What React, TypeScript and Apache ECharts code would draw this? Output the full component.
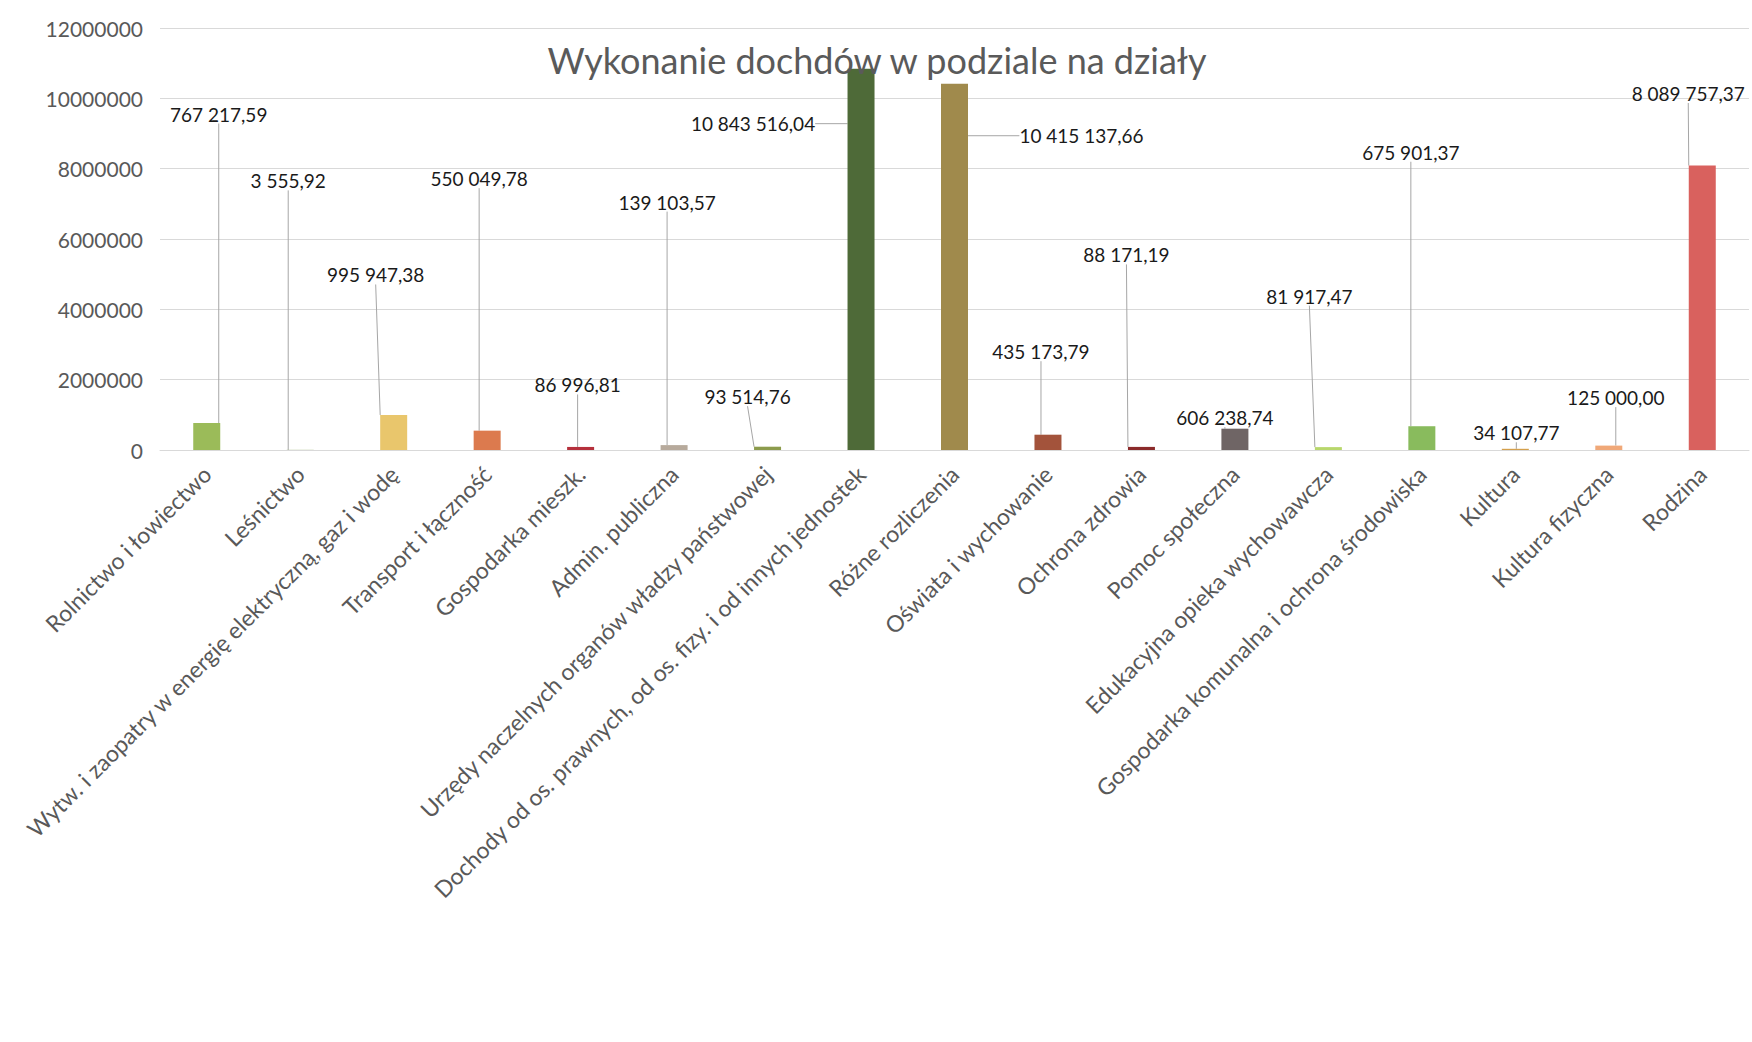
import React, { useEffect, useRef } from "react";
import * as echarts from "echarts";

const categories = [
  "Rolnictwo i łowiectwo",
  "Leśnictwo",
  "Wytw. i zaopatry w energię elektryczną, gaz i wodę",
  "Transport i łączność",
  "Gospodarka mieszk.",
  "Admin. publiczna",
  "Urzędy naczelnych organów władzy państwowej",
  "Dochody od os. prawnych, od os. fizy. i od innych jednostek",
  "Różne rozliczenia",
  "Oświata i wychowanie",
  "Ochrona zdrowia",
  "Pomoc społeczna",
  "Edukacyjna opieka wychowawcza",
  "Gospodarka komunalna i ochrona środowiska",
  "Kultura",
  "Kultura fizyczna",
  "Rodzina",
];

const values = [
  767217.59, 3555.92, 995947.38, 550049.78, 86996.81, 139103.57, 93514.76,
  10843516.04, 10415137.66, 435173.79, 88171.19, 606238.74, 81917.47,
  675901.37, 34107.77, 125000.0, 8089757.37,
];

const yMin = 0;
const yMax = 12000000;
const yStep = 2000000;

const barColors = [
  "#9bbb59", "#77933c", "#e9c66c", "#dc7a4e", "#b5303c", "#b7aa9c",
  "#8c9b4c", "#4e6a38", "#a08a4c", "#a3533b", "#8b2a2a", "#6f6565",
  "#b8d76c", "#89bb5d", "#d4a04c", "#f0a878", "#d9615e",
];

// label offsets (px) relative to the top-centre of each bar
const labelDx = [12, -12, -18, -8, -3, -7, -20, -108, 127, -7, -15, -10, -19, -11, 1, 7, -14];
const labelDy = [-309, -269, -140, -252, -62, -243, -50, 55, 52, -83, -192, -11, -151, -274, -16, -48, -72];

function fmt(v: number): string {
  const [i, d] = v.toFixed(2).split(".");
  const withSpaces = i.replace(/\B(?=(\d{3})+(?!\d))/g, " ");
  return withSpaces + "," + d;
}

export default function App() {
  const ref = useRef<HTMLDivElement>(null);
  useEffect(() => {
    if (!ref.current) return;
    const chart = echarts.init(ref.current, null, { renderer: "svg" });
    chart.setOption({
      animation: false,
      backgroundColor: "#ffffff",
      title: {
        text: "Wykonanie dochdów w podziale na działy",
        left: 872,
        textAlign: "center",
        top: 37,
        textStyle: {
          fontFamily: "Lato",
          fontSize: 36,
          fontWeight: "normal",
          color: "#5a5a5a",
        },
      },
      grid: { left: 160, right: 3, top: 28, bottom: 1042 - 450, containLabel: false },
      xAxis: {
        type: "category",
        data: categories,
        axisTick: { show: false },
        axisLine: { lineStyle: { color: "#d9d9d9" } },
        axisLabel: {
          rotate: 45,
          interval: 0,
          margin: 20,
          fontFamily: "Lato",
          fontSize: 23,
          color: "#595959",
        },
      },
      yAxis: {
        type: "value",
        min: yMin,
        max: yMax,
        interval: yStep,
        axisLine: { show: false },
        axisTick: { show: false },
        splitLine: { lineStyle: { color: "#d9d9d9", width: 1 } },
        axisLabel: {
          fontFamily: "Lato",
          fontSize: 21,
          color: "#595959",
          margin: 17,
          formatter: (v: number) => String(v),
        },
      },
      series: [
        {
          type: "bar",
          barWidth: 27,
          data: values.map((v, i) => ({
            value: v,
            itemStyle: { color: barColors[i] },
          })),
          label: {
            show: true,
            position: "top",
            formatter: (p: any) => fmt(p.value),
            fontFamily: "Lato",
            fontSize: 19,
            color: "#1a1a1a",
          },
          labelLine: {
            show: true,
            lineStyle: { color: "#a6a6a6", width: 1 },
          },
          labelLayout: (p: any) => {
            const i = p.dataIndex;
            return {
              x: p.rect.x + p.rect.width / 2 + labelDx[i],
              y: p.rect.y + labelDy[i],
              align: "center",
              verticalAlign: "middle",
            };
          },
        },
      ],
    });
    return () => chart.dispose();
  }, []);
  return (
    <div
      ref={ref}
      style={{ position: "fixed", left: 0, top: 0, width: 1752, height: 1042 }}
    />
  );
}
